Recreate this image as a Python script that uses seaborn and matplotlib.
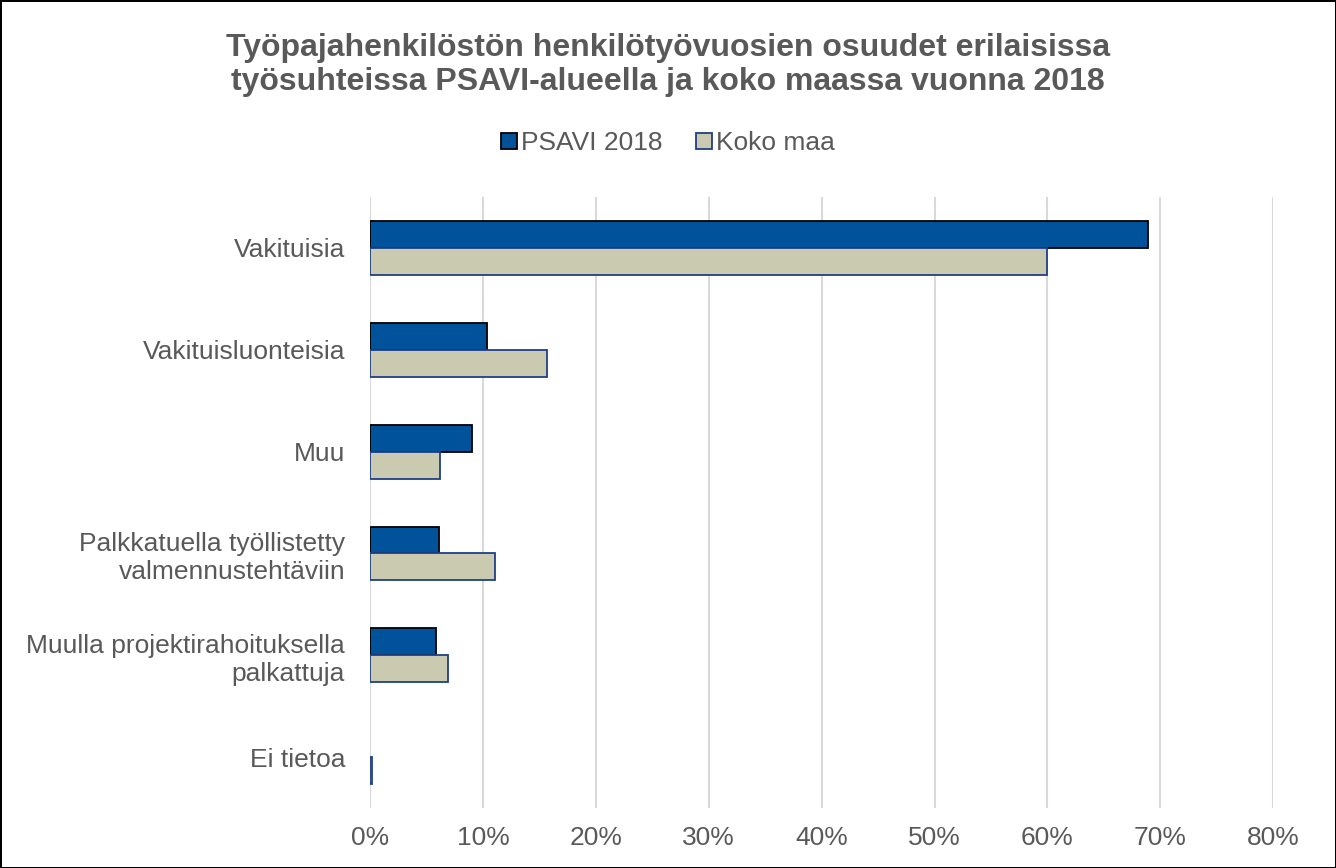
import pandas as pd
import numpy as np
import matplotlib
matplotlib.use('Agg')
import matplotlib.pyplot as plt
import seaborn as sns
from matplotlib.patches import Patch

# Data (percent)
categories = ['Vakituisia', 'Vakituisluonteisia', 'Muu',
              'Palkkatuella työllistetty\nvalmennustehtäviin',
              'Muulla projektirahoituksella\npalkattuja', 'Ei tietoa']
psavi_2018 = [68.9, 10.4, 9.0, 6.1, 5.8, 0.0]
koko_maa = [60.0, 15.7, 6.2, 11.1, 6.9, 0.15]
series_names = ['PSAVI 2018', 'Koko maa']

df = pd.DataFrame({
    'kategoria': categories * 2,
    'osuus': psavi_2018 + koko_maa,
    'sarja': [series_names[0]] * len(categories) + [series_names[1]] * len(categories),
})

sns.set_style('white')
plt.rcParams['font.family'] = ['Liberation Sans', 'DejaVu Sans']

fill_colors = {'PSAVI 2018': '#00539B', 'Koko maa': '#CACAB1'}
edge_colors = {'PSAVI 2018': '#000000', 'Koko maa': '#203F8A'}
text_gray = '#595959'

fig = plt.figure(figsize=(13.36, 8.68), dpi=100, linewidth=2, edgecolor='black')
ax = fig.add_axes([0.277, 0.069, 0.676, 0.704])

sns.barplot(data=df, y='kategoria', x='osuus', hue='sarja', orient='h',
            palette=fill_colors, saturation=1, width=0.53, ax=ax, legend=False, zorder=3)

# give each series its own edge colour
for container, name in zip(ax.containers, series_names):
    for bar in container:
        bar.set_edgecolor(edge_colors[name])
        bar.set_linewidth(1.3 if bar.get_width() > 0 else 0)

ax.set_xlim(0, 80)
ax.set_xticks(np.arange(0, 81, 10))
ax.set_xticklabels([f'{v}%' for v in range(0, 81, 10)])
ax.xaxis.grid(True, color='#D9D9D9', linewidth=1.5, zorder=0)
ax.set_axisbelow(True)
for s in ax.spines.values():
    s.set_visible(False)
ax.set(xlabel=None, ylabel=None)
ax.tick_params(axis='x', labelsize=19, colors=text_gray, length=0, pad=13)
ax.tick_params(axis='y', labelsize=19, colors=text_gray, length=0, pad=18)

fig.text(0.5, 0.925, 'Työpajahenkilöstön henkilötyövuosien osuudet erilaisissa\n'
         'työsuhteissa PSAVI-alueella ja koko maassa vuonna 2018',
         ha='center', va='center', fontsize=23, fontweight='bold', color=text_gray,
         linespacing=1.15)

handles = [Patch(facecolor=fill_colors[n], edgecolor=edge_colors[n], linewidth=1.3, label=n)
           for n in series_names]
leg = fig.legend(handles=handles, loc='center', bbox_to_anchor=(0.5, 0.835), ncol=2,
                 frameon=False, fontsize=19, handlelength=0.6, handleheight=0.6,
                 handletextpad=0.15, columnspacing=1.3)
for t in leg.get_texts():
    t.set_color(text_gray)

fig.savefig('out.png', dpi=100, edgecolor=fig.get_edgecolor())
